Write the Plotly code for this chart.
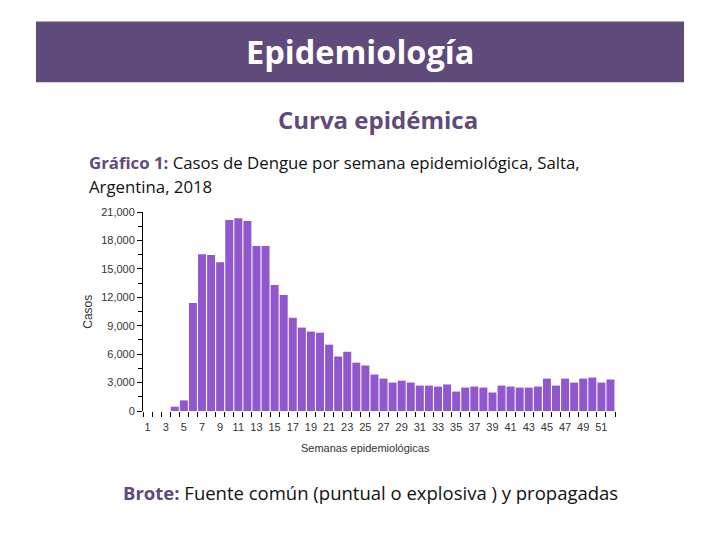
import plotly.graph_objects as go

weeks = list(range(1, 53))
cases = [0, 0, 0, 450, 1120, 11400, 16550, 16450, 15700, 20150,
         20350, 20050, 17400, 17400, 13300, 12250, 9850, 8800, 8380, 8260,
         7000, 5750, 6250, 5100, 4800, 3850, 3420, 3000, 3200, 3000,
         2680, 2680, 2580, 2800, 2050, 2470, 2580, 2470, 1950, 2680,
         2580, 2470, 2470, 2580, 3420, 2680, 3420, 3000, 3420, 3530,
         3000, 3320]
y_ticks = list(range(0, 21001, 3000))
x_ticks = list(range(1, 53, 2))

BAR = "#9157CF"
PURPLE = "#604A7B"

# plot area in pixels
L, R, T, B = 143, 615, 212, 411.5
W, H = R - L, B - T

def px(x):
    return (x - L) / W

def py(y):
    return (B - y) / H

fig = go.Figure(go.Bar(x=weeks, y=cases, marker=dict(color=BAR, line=dict(width=0)),
                       width=0.88))

fig.update_layout(
    width=720, height=540,
    margin=dict(l=L, r=720 - R, t=T, b=540 - B, autoexpand=False),
    paper_bgcolor="white", plot_bgcolor="white",
    showlegend=False,
    font=dict(family="Liberation Sans, Arial", size=11, color="#444"),
)
fig.update_xaxes(
    range=[0.5, 52.5], tickmode="array", tickvals=x_ticks,
    ticktext=[str(v) for v in x_ticks], ticks="", showgrid=False,
    showline=False, zeroline=False, ticklabelstandoff=8,
    tickfont=dict(size=11, color="#333"),
    minor=dict(tick0=0.5, dtick=1, ticks="outside", ticklen=5,
               tickcolor="black", tickwidth=1, showgrid=False),
)
fig.update_yaxes(
    range=[0, 21000], tickmode="array", tickvals=y_ticks, tickformat=",",
    ticks="outside", ticklen=5, tickcolor="black", showline=True,
    linecolor="black", linewidth=1, showgrid=False, zeroline=False,
    tickfont=dict(size=11, color="#333"),
    minor=dict(dtick=1500, ticks="outside", ticklen=4, tickcolor="black",
               showgrid=False),
)

fig.add_shape(type="rect", xref="paper", yref="paper",
              x0=px(36), x1=px(684), y0=py(82), y1=py(21),
              fillcolor=PURPLE, line=dict(width=0), layer="below")

def ann(text, x, y, size, color, xanchor="center", family="Open Sans", angle=0):
    fig.add_annotation(text=text, xref="paper", yref="paper", x=px(x), y=py(y),
                       xanchor=xanchor, yanchor="middle", showarrow=False,
                       textangle=angle,
                       font=dict(family=family, size=size, color=color))

ann("<b>Epidemiología</b>", 360, 51, 32.5, "white")
ann("<b>Curva epidémica</b>", 377.5, 119, 24, PURPLE)
ann(f"<b><span style='color:{PURPLE}'>Gráfico 1:</span></b> Casos de Dengue por semana epidemiológica, Salta,",
    87, 162, 16.8, "#111", xanchor="left")
ann("Argentina, 2018", 87, 186, 16.8, "#111", xanchor="left")
ann(f"<b><span style='color:{PURPLE}'>Brote:</span></b> Fuente común (puntual o explosiva ) y propagadas",
    121, 493, 18.5, "#111", xanchor="left")
ann("Casos", 88, 312, 12, "#333", family="Liberation Sans, Arial", angle=-90)
ann("Semanas epidemiológicas", 365, 449, 11, "#333", family="Liberation Sans, Arial")

fig.write_html("out.html")
